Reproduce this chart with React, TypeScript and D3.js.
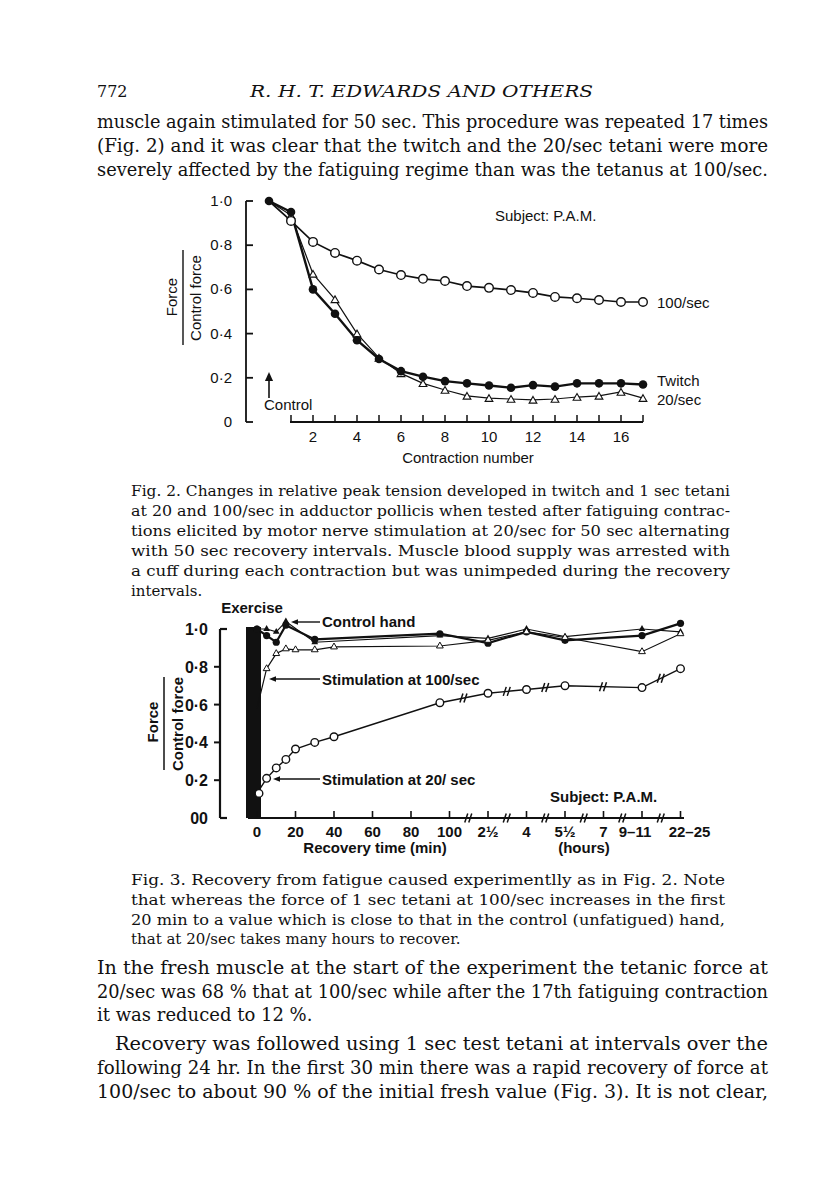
import React from 'react';
import * as d3 from 'd3';

// ---- Fig. 2 data (contraction number vs force / control force)
const contraction = [0, 1, 2, 3, 4, 5, 6, 7, 8, 9, 10, 11, 12, 13, 14, 15, 16, 17];
const twitch = [1.0, 0.95, 0.60, 0.49, 0.37, 0.285, 0.23, 0.205, 0.185, 0.175, 0.165, 0.155, 0.167, 0.16, 0.175, 0.175, 0.175, 0.17];
const tetanus20 = [1.0, 0.935, 0.67, 0.555, 0.40, 0.29, 0.22, 0.175, 0.145, 0.118, 0.108, 0.104, 0.10, 0.104, 0.113, 0.118, 0.136, 0.108];
const tetanus100 = [1.0, 0.91, 0.815, 0.765, 0.73, 0.69, 0.665, 0.648, 0.638, 0.615, 0.607, 0.597, 0.584, 0.566, 0.56, 0.552, 0.543, 0.543];
const fig2YTicks = [0, 0.2, 0.4, 0.6, 0.8, 1.0];
const fig2YLabels = ['0', '0·2', '0·4', '0·6', '0·8', '1·0'];
const fig2XTicks = [1, 2, 3, 4, 5, 6, 7, 8, 9, 10, 11, 12, 13, 14, 15, 16, 17];
const fig2XLabels = [2, 4, 6, 8, 10, 12, 14, 16];

// ---- Fig. 3 data (position along the broken recovery-time axis)
const fig3TickPos = [0, 1, 2, 3, 4, 5, 6, 7, 8, 9, 10, 11];
const fig3TickLabels = ['0', '20', '40', '60', '80', '100', '2½', '4', '5½', '7', '9–11', '22–25'];
const fig3AxisBreaks = [5.5, 6.5, 7.5, 8.5, 9.5, 10.5];
const fig3YTicks = [0, 0.2, 0.4, 0.6, 0.8, 1.0];
const fig3YLabels = ['00', '0·2', '0·4', '0·6', '0·8', '1·0'];

const stim20Pos = [0, 0.25, 0.5, 0.75, 1, 1.5, 2, 4.75, 6, 7, 8, 10, 11];
const stim20Val = [0.13, 0.21, 0.265, 0.31, 0.365, 0.40, 0.43, 0.61, 0.66, 0.68, 0.70, 0.69, 0.79];
const stim100Pos = [0, 0.25, 0.5, 0.75, 1, 1.5, 2, 4.75, 6, 7, 8, 10, 11];
const stim100Val = [0.58, 0.79, 0.87, 0.895, 0.89, 0.89, 0.905, 0.91, 0.94, 0.985, 0.955, 0.88, 0.975];
const ctrlCirclePos = [0, 0.25, 0.5, 0.75, 1.5, 4.75, 6, 7, 8, 10, 11];
const ctrlCircleVal = [1.0, 0.965, 0.93, 1.02, 0.945, 0.975, 0.925, 0.985, 0.94, 0.965, 1.03];
const ctrlTriPos = [0, 0.25, 0.5, 0.75, 1.5, 4.75, 6, 7, 8, 10, 11];
const ctrlTriVal = [1.0, 1.0, 0.985, 1.04, 0.93, 0.965, 0.95, 1.0, 0.96, 1.0, 0.985];

// ---- page text
const topLines = [
  'muscle again stimulated for 50 sec. This procedure was repeated 17 times',
  '(Fig. 2) and it was clear that the twitch and the 20/sec tetani were more',
  'severely affected by the fatiguing regime than was the tetanus at 100/sec.',
];
const fig2Caption = [
  'Fig. 2. Changes in relative peak tension developed in twitch and 1 sec tetani',
  'at 20 and 100/sec in adductor pollicis when tested after fatiguing contrac-',
  'tions elicited by motor nerve stimulation at 20/sec for 50 sec alternating',
  'with 50 sec recovery intervals. Muscle blood supply was arrested with',
  'a cuff during each contraction but was unimpeded during the recovery',
  'intervals.',
];
const fig3Caption = [
  'Fig. 3. Recovery from fatigue caused experimentlly as in Fig. 2. Note',
  'that whereas the force of 1 sec tetani at 100/sec increases in the first',
  '20 min to a value which is close to that in the control (unfatigued) hand,',
  'that at 20/sec takes many hours to recover.',
];
const bottomLines = [
  'In the fresh muscle at the start of the experiment the tetanic force at',
  '20/sec was 68 % that at 100/sec while after the 17th fatiguing contraction',
  'it was reduced to 12 %.',
  'Recovery was followed using 1 sec test tetani at intervals over the',
  'following 24 hr. In the first 30 min there was a rapid recovery of force at',
  '100/sec to about 90 % of the initial fresh value (Fig. 3). It is not clear,',
];

const ink = '#111';
const serif = '"DejaVu Serif", serif';
const sans = '"Liberation Sans", Arial, sans-serif';

const tri = d3.symbol().type(d3.symbolTriangle);

// filled arrowhead pointing in a direction
const arrowHead = (x: number, y: number, dir: 'left' | 'up', s = 6) => {
  if (dir === 'up') return `M${x},${y} L${x - s * 0.45},${y + s} L${x + s * 0.45},${y + s} Z`;
  return `M${x},${y} L${x + s},${y - s * 0.4} L${x + s},${y + s * 0.4} Z`;
};

const breakMark = (x: number, y: number, key: string) => (
  <g key={key} stroke={ink} strokeWidth={1.5}>
    <line x1={x - 4} y1={y + 4.5} x2={x - 1} y2={y - 4.5} />
    <line x1={x} y1={y + 4.5} x2={x + 3} y2={y - 4.5} />
  </g>
);

const Fig2 = () => {
  const x = d3.scaleLinear().domain([0, 17]).range([269, 643]);
  const y = d3.scaleLinear().domain([0, 1]).range([422, 201]);
  const line = (vals: number[]) =>
    d3.line<number>().x((_, i) => x(contraction[i])).y(d => y(d))(vals) || '';
  const axisX = 246;

  return (
    <g fill={ink} fontFamily={sans}>
      {/* y axis */}
      <line x1={axisX} x2={axisX} y1={y(1)} y2={y(0)} stroke={ink} strokeWidth={1.8} />
      {fig2YTicks.map((t, i) => (
        <g key={`y2-${t}`}>
          <line x1={axisX} x2={axisX + 7} y1={y(t)} y2={y(t)} stroke={ink} strokeWidth={1.8} />
          <text x={axisX - 14} y={y(t)} dy={5} textAnchor="end" fontSize={15}>{fig2YLabels[i]}</text>
        </g>
      ))}
      <text transform="translate(177,297) rotate(-90)" textAnchor="middle" fontSize={15}>Force</text>
      <line x1={183} x2={183} y1={250} y2={345} stroke={ink} strokeWidth={1.4} />
      <text transform="translate(201,298) rotate(-90)" textAnchor="middle" fontSize={15}>Control force</text>

      {/* x axis */}
      <line x1={x(1) - 1} x2={x(17)} y1={y(0)} y2={y(0)} stroke={ink} strokeWidth={1.8} />
      {fig2XTicks.map(t => (
        <line key={`x2-${t}`} x1={x(t)} x2={x(t)} y1={y(0)} y2={y(0) - 7} stroke={ink} strokeWidth={1.5} />
      ))}
      {fig2XLabels.map(t => (
        <text key={`x2l-${t}`} x={x(t)} y={442} textAnchor="middle" fontSize={15}>{t}</text>
      ))}
      <text x={468} y={463} textAnchor="middle" fontSize={15}>Contraction number</text>

      {/* control arrow */}
      <line x1={x(0)} x2={x(0)} y1={398} y2={378} stroke={ink} strokeWidth={1.6} />
      <path d={arrowHead(x(0), 372, 'up', 9)} />
      <text x={264} y={410} fontSize={15}>Control</text>

      {/* series */}
      <path d={line(tetanus100)} fill="none" stroke={ink} strokeWidth={1.7} />
      <path d={line(tetanus20)} fill="none" stroke={ink} strokeWidth={1.2} />
      <path d={line(twitch)} fill="none" stroke={ink} strokeWidth={2.4} />
      {tetanus20.map((v, i) => i > 0 && (
        <path key={`t20-${i}`} d={tri.size(26)() || ''} transform={`translate(${x(contraction[i])},${y(v) + 1})`}
          fill="#fff" stroke={ink} strokeWidth={1.1} />
      ))}
      {tetanus100.map((v, i) => i > 0 && (
        <circle key={`t100-${i}`} cx={x(contraction[i])} cy={y(v)} r={4.3} fill="#fff" stroke={ink} strokeWidth={1.4} />
      ))}
      {twitch.map((v, i) => (
        <circle key={`tw-${i}`} cx={x(contraction[i])} cy={y(v)} r={4.3} fill={ink} />
      ))}

      <text x={495} y={221} fontSize={15}>Subject: P.A.M.</text>
      <text x={657} y={308} fontSize={15}>100/sec</text>
      <text x={657} y={386} fontSize={15}>Twitch</text>
      <text x={657} y={405} fontSize={15}>20/sec</text>
    </g>
  );
};

const Fig3 = () => {
  const x = d3.scaleLinear().domain([0, 11]).range([257, 680.5]);
  const y = d3.scaleLinear().domain([0, 1]).range([818, 629]);
  const line = (pos: number[], vals: number[]) =>
    d3.line<number>().x((_, i) => x(pos[i])).y(d => y(d))(vals) || '';
  const axisX = 220;
  const firstHour = stim20Pos.indexOf(4.75);
  // crowded labels at the right end are nudged apart, as in the print
  const labelNudge: Record<string, number> = { '9–11': -7, '22–25': 9 };

  return (
    <g fill={ink} fontFamily={sans} fontWeight="bold">
      {/* y axis */}
      <line x1={axisX} x2={axisX} y1={y(1)} y2={y(0)} stroke={ink} strokeWidth={2.2} />
      {fig3YTicks.map((t, i) => (
        <g key={`y3-${t}`}>
          {t === 0 || t === 1
            ? <line x1={axisX} x2={axisX + 7} y1={y(t)} y2={y(t)} stroke={ink} strokeWidth={2.2} />
            : <line x1={axisX - 6} x2={axisX} y1={y(t)} y2={y(t)} stroke={ink} strokeWidth={2} />}
          <text x={208} y={y(t)} dy={6} textAnchor="end" fontSize={16}>{fig3YLabels[i]}</text>
        </g>
      ))}
      <text transform="translate(158,722) rotate(-90)" textAnchor="middle" fontSize={15}>Force</text>
      <line x1={164} x2={164} y1={677} y2={770} stroke={ink} strokeWidth={1.5} />
      <text transform="translate(183,724) rotate(-90)" textAnchor="middle" fontSize={15}>Control force</text>

      {/* exercise bar */}
      <rect x={246} y={627} width={15} height={y(0) - 627} fill={ink} />
      <text x={252} y={613} textAnchor="middle" fontSize={15}>Exercise</text>

      {/* x axis */}
      <line x1={248} x2={684} y1={y(0)} y2={y(0)} stroke={ink} strokeWidth={2.2} />
      {fig3TickPos.map((t, i) => (
        <g key={`x3-${t}`}>
          <line x1={x(t)} x2={x(t)} y1={y(0)} y2={y(0) - 7} stroke={ink} strokeWidth={1.6} />
          <text x={x(t) + (labelNudge[fig3TickLabels[i]] || 0)} y={837} textAnchor="middle" fontSize={15}>
            {fig3TickLabels[i]}
          </text>
        </g>
      ))}
      {fig3AxisBreaks.map(b => breakMark(x(b), y(0), `ab-${b}`))}
      <text x={375} y={853} textAnchor="middle" fontSize={15}>Recovery time (min)</text>
      <text x={584} y={853} textAnchor="middle" fontSize={15}>(hours)</text>

      {/* series */}
      <path d={line(ctrlTriPos, ctrlTriVal)} fill="none" stroke={ink} strokeWidth={1.2} />
      <path d={line(ctrlCirclePos, ctrlCircleVal)} fill="none" stroke={ink} strokeWidth={2.2} />
      <path d={line(stim100Pos, stim100Val)} fill="none" stroke={ink} strokeWidth={1.2} />
      <path d={line(stim20Pos, stim20Val)} fill="none" stroke={ink} strokeWidth={1.4} />
      {stim20Pos.slice(firstHour).map((p, j) => {
        const i = j + firstHour;
        if (i + 1 >= stim20Pos.length) return null;
        const mx = (x(p) + x(stim20Pos[i + 1])) / 2;
        const my = (y(stim20Val[i]) + y(stim20Val[i + 1])) / 2;
        return breakMark(mx, my, `db-${i}`);
      })}
      {ctrlTriPos.map((p, i) => (
        <path key={`ct-${i}`} d={tri.size(20)() || ''} transform={`translate(${x(p)},${y(ctrlTriVal[i])})`} fill={ink} />
      ))}
      {ctrlCirclePos.map((p, i) => (
        <circle key={`cc-${i}`} cx={x(p)} cy={y(ctrlCircleVal[i])} r={3.6} fill={ink} />
      ))}
      {stim100Pos.map((p, i) => i > 0 && (
        <path key={`s100-${i}`} d={tri.size(20)() || ''} transform={`translate(${x(p)},${y(stim100Val[i])})`}
          fill="#fff" stroke={ink} strokeWidth={1} />
      ))}
      {stim20Pos.map((p, i) => (
        <circle key={`s20-${i}`} cx={x(p) + (i === 0 ? 2 : 0)} cy={y(stim20Val[i])} r={3.8} fill="#fff" stroke={ink} strokeWidth={1.4} />
      ))}

      {/* annotations */}
      <line x1={296} x2={320} y1={622} y2={622} stroke={ink} strokeWidth={1.4} />
      <path d={arrowHead(291, 622, 'left', 7)} />
      <text x={322} y={627} fontSize={15}>Control hand</text>

      <line x1={274} x2={320} y1={679} y2={679} stroke={ink} strokeWidth={1.4} />
      <path d={arrowHead(269, 679, 'left', 7)} />
      <text x={322} y={685} fontSize={15}>Stimulation at 100/sec</text>

      <line x1={279} x2={320} y1={779} y2={779} stroke={ink} strokeWidth={1.4} />
      <path d={arrowHead(273, 779, 'left', 7)} />
      <text x={322} y={785} fontSize={15}>Stimulation at 20/ sec</text>

      <text x={550} y={802} fontSize={15}>Subject: P.A.M.</text>
    </g>
  );
};

const Paragraph = ({ lines, x, y0, step, width, size, last, indent }:
  { lines: string[]; x: number; y0: number; step: number[]; width: number; size: number; last: number[]; indent?: number[] }) => (
  <g fontFamily={serif} fontSize={size} fill={ink}>
    {lines.map((l, i) => {
      const dx = indent && indent.includes(i) ? 18 : 0;
      const justified = !last.includes(i);
      return (
        <text key={i} x={x + dx} y={y0 + step[i]}
          {...(justified ? { textLength: width - dx, lengthAdjust: 'spacingAndGlyphs' } : {})}>
          {l}
        </text>
      );
    })}
  </g>
);

export default function App() {
  return (
    <svg width={816} height={1199} viewBox="0 0 816 1199"
      style={{ position: 'absolute', left: 0, top: 0, background: '#fff' }}>
      <text x={97} y={97} fontFamily={serif} fontSize={16} fill={ink}>772</text>
      <text x={250} y={97} fontFamily={serif} fontStyle="italic" fontSize={17} fill={ink}
        textLength={343} lengthAdjust="spacingAndGlyphs">R. H. T. EDWARDS AND OTHERS</text>

      <Paragraph lines={topLines} x={97} y0={128} step={[0, 24, 48]} width={671} size={18} last={[]} />
      <Fig2 />
      <Paragraph lines={fig2Caption} x={131} y0={496} step={[0, 20, 40, 60, 80, 100]} width={599} size={15} last={[5]} />
      <Fig3 />
      <Paragraph lines={fig3Caption} x={131} y0={885} step={[0, 20, 40, 59]} width={594} size={15} last={[3]} />
      <Paragraph lines={bottomLines} x={97} y0={974} step={[0, 24, 47, 76, 100, 124]} width={671} size={18}
        last={[2]} indent={[3]} />
    </svg>
  );
}
